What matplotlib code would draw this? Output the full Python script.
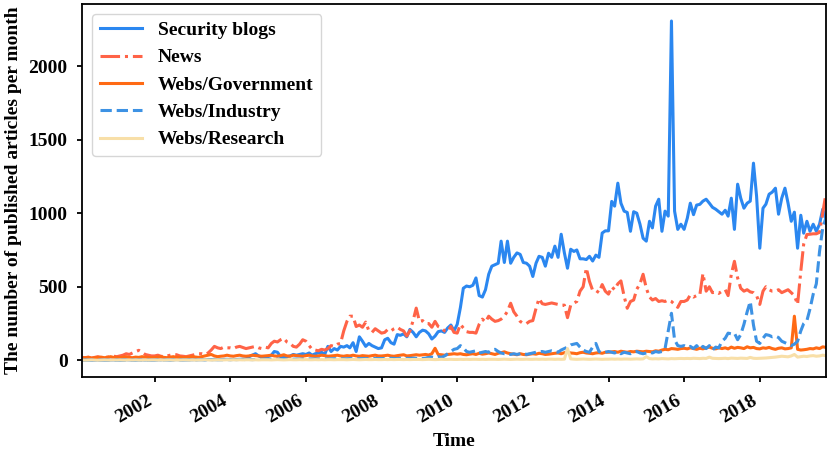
import matplotlib
matplotlib.use('Agg')
import matplotlib.pyplot as plt
import matplotlib.dates as mdates
import pandas as pd

# monthly counts, Feb 2000 .. Oct 2019
months = pd.date_range('2000-02-01', periods=237, freq='MS')

security_blogs = (
    [2, 1, 3, 2, 1, 2, 3, 2, 1, 2, 3] +
    [2, 3, 2, 4, 3, 2, 3, 4, 3, 2, 3, 4] +
    [3, 4, 3, 5, 4, 3, 4, 5, 4, 3, 5, 4] +
    [4, 5, 6, 5, 4, 6, 5, 7, 6, 5, 6, 7] +
    [5, 6, 6, 7, 8, 10, 25, 35, 45, 30, 20, 25] +
    [25, 35, 60, 55, 25, 20, 25, 30, 40, 35, 40, 45] +
    [40, 50, 35, 45, 50, 55, 40, 95, 60, 80, 70, 95] +
    [90, 100, 85, 120, 60, 160, 130, 95, 115, 100, 90, 80] +
    [85, 140, 150, 120, 110, 175, 170, 180, 160, 210, 190, 160] +
    [190, 205, 200, 180, 145, 165, 195, 200, 190, 220, 240, 200] +
    [245, 360, 490, 505, 500, 510, 560, 440, 430, 480, 585, 640] +
    [650, 660, 810, 665, 810, 660, 700, 730, 720, 665, 660, 640] +
    [570, 660, 707, 700, 640, 728, 700, 776, 700, 857, 730, 626] +
    [755, 740, 750, 690, 690, 685, 707, 675, 715, 700, 865, 880] +
    [880, 1080, 1048, 1204, 1068, 1014, 1005, 877, 1010, 1000, 925, 830] +
    [810, 945, 900, 1048, 1095, 877, 1014, 980, 2306, 1014, 890, 925] +
    [890, 966, 1068, 990, 1055, 1060, 1082, 1095, 1068, 1040, 1027, 1010] +
    [993, 1020, 980, 1102, 890, 1197, 1102, 1034, 1068, 1082, 1340, 1116] +
    [762, 1034, 1061, 1129, 1143, 1170, 993, 1102, 1170, 1068, 945, 1007] +
    [762, 986, 864, 945, 877, 925, 877, 925, 1027, 960]
)

news = (
    [20, 18, 22, 15, 20, 25, 18, 20, 22, 25, 28] +
    [25, 30, 35, 45, 40, 50, 60, 68, 55, 40, 35, 30] +
    [30, 35, 28, 25, 30, 35, 40, 38, 30, 28, 25, 30] +
    [35, 40, 45, 45, 40, 50, 70, 95, 85, 80, 90, 85] +
    [85, 80, 90, 95, 88, 80, 85, 90, 95, 85, 80, 90] +
    [85, 115, 130, 125, 140, 150, 125, 115, 95, 90, 110, 140] +
    [130, 100, 75, 70, 65, 75, 70, 80, 100, 95, 110, 115] +
    [200, 265, 300, 300, 230, 240, 225, 260, 200, 190, 215, 200] +
    [185, 190, 210, 200, 215, 225, 210, 200, 165, 200, 270, 355] +
    [265, 270, 250, 250, 225, 265, 230, 220, 200, 195, 230, 190] +
    [185, 245, 220, 195, 190, 190, 185, 245, 280, 260, 300, 280] +
    [265, 270, 280, 300, 333, 388, 330, 300, 265, 250, 250, 265] +
    [270, 353, 420, 385, 380, 385, 390, 385, 380, 375, 375, 290] +
    [375, 390, 400, 470, 500, 627, 537, 475, 475, 460, 515, 470] +
    [450, 500, 480, 520, 540, 435, 354, 400, 410, 483, 520, 585] +
    [490, 430, 410, 420, 400, 405, 400, 410, 400, 380, 360, 400] +
    [400, 410, 445, 430, 440, 445, 590, 470, 500, 460, 465, 455] +
    [470, 480, 440, 585, 673, 560, 490, 470, 480, 465, 460, 440] +
    [380, 470, 500, 480, 470, 470, 480, 460, 470, 480, 460, 440] +
    [380, 605, 790, 855, 857, 860, 860, 870, 1000, 1130]
)

webs_government = (
    [15, 18, 20, 15, 18, 20, 22, 18, 20, 25, 20] +
    [20, 18, 22, 25, 20, 18, 22, 20, 25, 22, 20, 18] +
    [20, 22, 25, 20, 18, 22, 25, 20, 22, 18, 20, 22] +
    [25, 22, 20, 25, 30, 35, 40, 30, 25, 28, 30, 35] +
    [30, 28, 32, 35, 30, 28, 30, 35, 32, 30, 28, 30] +
    [32, 35, 30, 28, 32, 38, 30, 28, 35, 32, 30, 28] +
    [32, 35, 30, 28, 30, 35, 32, 28, 30, 32, 35, 30] +
    [28, 32, 30, 35, 30, 28, 32, 30, 28, 32, 35, 30] +
    [30, 32, 35, 30, 28, 32, 35, 38, 30, 32, 35, 38] +
    [35, 38, 40, 36, 45, 82, 40, 38, 35, 40, 42, 45] +
    [42, 45, 40, 38, 42, 45, 40, 48, 42, 45, 50, 45] +
    [40, 48, 52, 58, 50, 45, 42, 38, 45, 40, 38, 42] +
    [45, 42, 48, 45, 40, 42, 45, 48, 50, 45, 52, 55] +
    [50, 48, 45, 52, 55, 50, 48, 45, 50, 52, 48, 55] +
    [55, 58, 60, 55, 62, 58, 55, 60, 58, 62, 60, 58] +
    [62, 60, 58, 65, 62, 70, 75, 72, 80, 78, 75, 80] +
    [82, 78, 85, 80, 75, 82, 78, 85, 90, 82, 78, 85] +
    [80, 85, 78, 90, 82, 88, 85, 80, 92, 85, 88, 80] +
    [78, 85, 82, 88, 80, 75, 82, 85, 78, 80, 85, 300] +
    [75, 70, 72, 75, 80, 78, 85, 80, 92, 88]
)

webs_industry = (
    [2, 3, 2, 3, 2, 3, 2, 3, 2, 3, 2] +
    [3, 2, 3, 2, 3, 3, 2, 3, 2, 3, 3, 2] +
    [3, 4, 3, 3, 4, 3, 4, 3, 3, 4, 3, 4] +
    [4, 3, 4, 5, 4, 5, 4, 5, 4, 5, 4, 5] +
    [5, 6, 5, 6, 5, 6, 6, 5, 6, 7, 6, 7] +
    [7, 8, 7, 8, 7, 8, 8, 7, 8, 9, 8, 9] +
    [9, 10, 9, 10, 9, 10, 10, 9, 10, 11, 10, 11] +
    [10, 11, 12, 11, 12, 11, 12, 12, 11, 12, 13, 12] +
    [12, 13, 12, 14, 13, 12, 14, 13, 14, 13, 15, 14] +
    [10, 12, 15, 20, 22, 18, 25, 20, 30, 45, 60, 75] +
    [80, 100, 85, 60, 55, 60, 65, 50, 55, 60, 55, 70] +
    [75, 60, 50, 45, 45, 40, 45, 40, 45, 50, 40, 45] +
    [50, 55, 60, 60, 55, 60, 65, 60, 55, 70, 80, 90] +
    [105, 110, 115, 90, 70, 60, 55, 90, 115, 60, 50, 55] +
    [60, 55, 50, 60, 45, 55, 50, 45, 55, 60, 50, 45] +
    [50, 55, 50, 60, 55, 60, 80, 200, 320, 140, 100, 95] +
    [100, 90, 95, 80, 100, 75, 95, 80, 100, 70, 90, 85] +
    [130, 150, 185, 180, 185, 140, 175, 245, 330, 400, 240, 130] +
    [115, 150, 175, 170, 160, 165, 155, 130, 120, 110, 100, 110] +
    [130, 200, 250, 270, 350, 450, 520, 740, 900, 966]
)

webs_research = (
    [2, 1, 2, 3, 2, 1, 2, 3, 2, 2, 3] +
    [2, 3, 2, 2, 3, 2, 3, 2, 2, 3, 2, 3] +
    [3, 2, 3, 2, 3, 3, 2, 3, 2, 3, 3, 2] +
    [3, 2, 3, 3, 4, 3, 2, 3, 4, 3, 3, 4] +
    [3, 4, 3, 4, 3, 4, 4, 3, 4, 3, 4, 4] +
    [4, 3, 4, 5, 4, 3, 4, 5, 4, 4, 5, 4] +
    [5, 4, 4, 5, 4, 5, 4, 5, 5, 4, 5, 5] +
    [5, 4, 5, 6, 5, 4, 5, 6, 5, 5, 6, 5] +
    [5, 6, 5, 6, 5, 6, 6, 5, 6, 5, 6, 6] +
    [6, 5, 6, 7, 6, 5, 6, 7, 6, 6, 7, 6] +
    [6, 7, 6, 7, 6, 7, 7, 6, 7, 6, 7, 7] +
    [7, 6, 7, 8, 7, 6, 7, 8, 7, 7, 8, 7] +
    [7, 8, 7, 8, 7, 8, 8, 7, 8, 7, 8, 80] +
    [10, 8, 7, 8, 9, 8, 7, 8, 9, 8, 7, 8] +
    [8, 9, 8, 9, 8, 9, 9, 8, 9, 10, 9, 10] +
    [25, 12, 10, 11, 10, 12, 11, 10, 12, 11, 12, 13] +
    [12, 13, 12, 14, 13, 12, 14, 13, 22, 14, 13, 12] +
    [13, 14, 12, 15, 14, 13, 15, 14, 13, 20, 14, 13] +
    [14, 15, 16, 18, 20, 22, 25, 28, 26, 24, 30, 40] +
    [22, 25, 28, 26, 30, 32, 28, 30, 35, 32]
)

plt.rcParams['font.family'] = ['Liberation Serif', 'DejaVu Serif']
plt.rcParams['font.weight'] = 'bold'
plt.rcParams['axes.labelweight'] = 'bold'
plt.rcParams['font.size'] = 14
plt.rcParams['axes.linewidth'] = 1.3
plt.rcParams['xtick.major.width'] = 1.3
plt.rcParams['ytick.major.width'] = 1.3
plt.rcParams['xtick.major.pad'] = 7
plt.rcParams['ytick.major.pad'] = 7

fig, ax = plt.subplots(figsize=(8.3, 4.49), dpi=100)

ax.plot(months, security_blogs, '-', color='#2b87f0', lw=2.2, label='Security blogs')
ax.plot(months, news, '-.', color='#ff6347', lw=2.2, label='News')
ax.plot(months, webs_government, '-', color='#ff6a14', lw=2.2, label='Webs/Government')
ax.plot(months, webs_industry, '--', color='#3d92e4', lw=2.2, label='Webs/Industry')
ax.plot(months, webs_research, '-', color='#f8dfa8', lw=2.2, label='Webs/Research')

ax.set_xlim(months[0], months[-1])
ax.xaxis.set_major_locator(mdates.YearLocator(2))
ax.xaxis.set_major_formatter(mdates.DateFormatter('%Y'))
ax.set_yticks([0, 500, 1000, 1500, 2000])
plt.setp(ax.get_xticklabels(), rotation=30, ha='right')

ax.set_xlabel('Time', labelpad=5)
ax.set_ylabel('The number of published articles per month', labelpad=5)
ax.legend(loc='upper left', handlelength=2.2)

fig.subplots_adjust(left=0.099, right=0.995, top=0.991, bottom=0.16)
fig.savefig('out.png')
